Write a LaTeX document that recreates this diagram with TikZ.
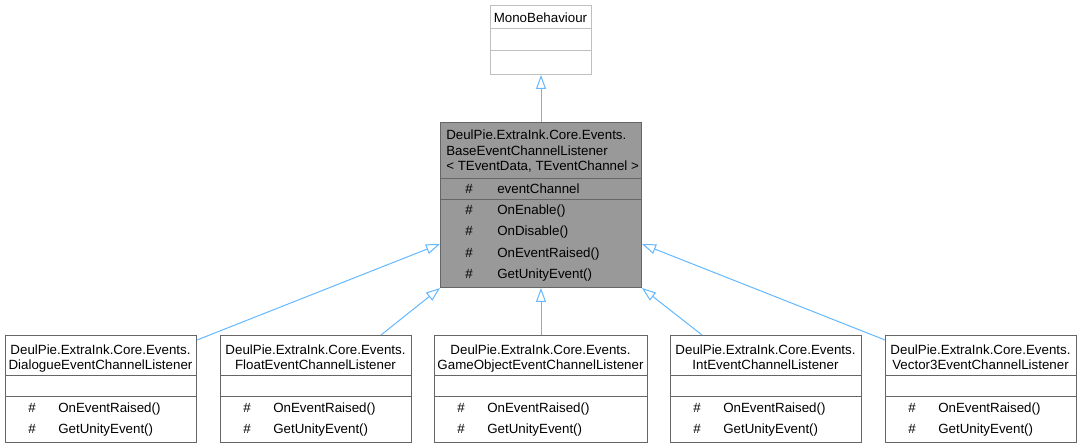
\documentclass[tikz,border=0pt]{standalone}
\usepackage{fontspec}
\setmainfont{Liberation Sans}
\usetikzlibrary{arrows.meta,calc}
\definecolor{arrowblue}{HTML}{63B8FF}
\definecolor{edgegray}{HTML}{666666}
\definecolor{lightedge}{HTML}{BFBFBF}
\definecolor{basefill}{HTML}{999999}
\begin{document}
\begin{tikzpicture}[x=0.75pt,y=-0.75pt,font=\fontsize{10}{12}\selectfont,
  classbox/.style={draw=edgegray, line width=0.75pt, fill=white, inner sep=0pt, anchor=north west},
  divider/.style={draw=edgegray, line width=0.75pt},
  ctxt/.style={inner sep=0pt, anchor=base},
  ltxt/.style={inner sep=0pt, anchor=base west},
  inh/.style={draw=arrowblue, line width=0.75pt, -{Triangle[fill=white, length=10.5pt, width=7.5pt]}}]
\useasboundingbox (0,0) rectangle (1081,448);
% MonoBehaviour
\node (mono) [classbox, draw=lightedge, minimum width=75.75pt, minimum height=51.75pt] at (490,5) {};
\draw[draw=lightedge, line width=0.75pt] (490,29) -- (591,29);
\draw[draw=lightedge, line width=0.75pt] (490,51) -- (591,51);
\node (monot) [ctxt] at (540.5,22.7) {MonoBehaviour};
% Base class
\node (base) [classbox, fill=basefill, minimum width=150.75pt, minimum height=123.75pt] at (440,122) {};
\draw[divider] (440,179) -- (641,179);
\draw[divider] (440,200) -- (641,200);
\node (bt1) [ltxt] at (446,140) {DeulPie.ExtraInk.Core.Events.};
\node (bt2) [ltxt] at (446,155.5) {BaseEventChannelListener};
\node (bt3) [ltxt] at (446,170.5) {< TEventData, TEventChannel >};
\foreach \nm/\y/\lab in {a/193.3/eventChannel, b/215/OnEnable(), c/235.5/OnDisable(), d/257.5/OnEventRaised(), e/279/GetUnityEvent()}{
  \node (bh\nm) [ctxt] at (469,\y) {\#};
  \node (bm\nm) [ltxt] at (497,\y) {\lab};
}
% Derived classes
\foreach \n/\l/\r/\t in {d1/5/196/Dialogue, d2/220/411/Float, d3/434/647/GameObject, d4/670/861/Int, d5/885/1076/Vector3}{
  \pgfmathsetmacro\w{(\r-\l)*0.75}
  \node (\n) [classbox, minimum width=\w pt, minimum height=80.25pt] at (\l,335) {};
  \draw[divider] (\l,376) -- (\r,376);
  \draw[divider] (\l,397) -- (\r,397);
  \node (\n t1) [ctxt] at ({(\l+\r)/2},354.3) {DeulPie.ExtraInk.Core.Events.};
  \node (\n t2) [ctxt] at ({(\l+\r)/2},369.3) {\t EventChannelListener};
  \node (\n h1) [ctxt] at ({\l+27},412.3) {\#};
  \node (\n m1) [ltxt] at ({\l+53},412.3) {OnEventRaised()};
  \node (\n h2) [ctxt] at ({\l+27},433.3) {\#};
  \node (\n m2) [ltxt] at ({\l+53},433.3) {GetUnityEvent()};
}
% Inheritance connectors
\draw[inh] (base.north) -- (mono.south);
\draw[inh] ([yshift=-3.75pt]d1.north east) -- ([yshift=33pt]base.south west);
\draw[inh] ([xshift=-23.25pt]d2.north east) -- (base.south west);
\draw[inh] (d3.north) -- (base.south);
\draw[inh] ([xshift=24pt]d4.north west) -- (base.south east);
\draw[inh] ([yshift=-3.75pt]d5.north west) -- ([yshift=33pt]base.south east);
\end{tikzpicture}
\end{document}
